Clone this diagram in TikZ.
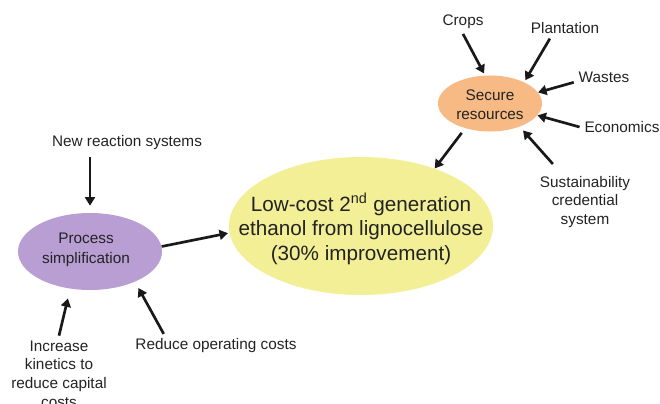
\documentclass[tikz,border=0pt]{standalone}
\usepackage{fontspec}
\setmainfont{Liberation Sans}
\usepackage{xcolor}
\usetikzlibrary{arrows.meta,shapes.geometric}

\definecolor{goalyellow}{RGB}{243,239,150}
\definecolor{procpurple}{RGB}{184,158,211}
\definecolor{resorange}{RGB}{247,186,132}
\definecolor{labelgray}{RGB}{35,35,35}

\begin{document}
\begin{tikzpicture}[x=0.025cm, y=-0.025cm,
    blob/.style={ellipse, inner sep=0pt},
    goaltext/.style={align=center, text=labelgray, font=\fontsize{14.7}{17.4}\selectfont},
    factor/.style={align=center, text=labelgray, font=\fontsize{10.9}{13.3}\selectfont},
    push/.style={-{Triangle[length=6pt,width=7pt]}, line width=1.9pt, black!90}]

    \useasboundingbox (0,0) rectangle (660,403);
    \clip (0,0) rectangle (660,403);

    \node[blob, fill=goalyellow, minimum width=6.6cm, minimum height=3.45cm] (ethanol) at (361,226) {};
    \node[blob, fill=procpurple, minimum width=3.6cm, minimum height=1.925cm] (process) at (90,251.5) {};
    \node[blob, fill=resorange, minimum width=2.6cm, minimum height=1.4cm] (secure) at (490,103.5) {};

    \node[goaltext] (ethanoltext) at (361,229) {Low-cost 2\textsuperscript{nd} generation\\ethanol from lignocellulose\\(30\% improvement)};
    \node[factor, font=\fontsize{10.9}{14.2}\selectfont] (processtext) at (86,250) {Process\\simplification};
    \node[factor] (securetext) at (490,105) {Secure\\resources};

    \node[factor] (reaction) at (127,143) {New reaction systems};
    \node[factor] (kinetics) at (59,374) {Increase\\kinetics to\\reduce capital\\costs};
    \node[factor] (operating) at (216,346) {Reduce operating costs};

    \node[factor] (crops) at (463,22) {Crops};
    \node[factor] (plant) at (565,28) {Plantation};
    \node[factor] (wastes) at (604,77) {Wastes};
    \node[factor] (economics) at (622,127) {Economics};
    \node[factor] (sustain) at (585,202) {Sustainability\\credential\\system};

    \draw[push, shorten <=1.5pt, shorten >=5pt] (reaction.south -| process.north) -- (process.north);
    \draw[push, shorten >=1pt] (process.4) -- (ethanol.183);
    \draw[push, shorten >=7pt] (kinetics.north) -- (process.242);
    \draw[push, shorten >=5pt] ([xshift=0.83cm]operating.north west) -- (process.326);
    \draw[push, shorten <=4pt] (secure.225) -- (ethanol.38);

    \draw[push, shorten >=1.5pt] (crops.south) -- (secure.100);
    \draw[push, shorten >=1.5pt] (plant.215) -- (secure.32);
    \draw[push] (wastes.190) -- (secure.13);
    \draw[push] (economics.west) -- (secure.346);
    \draw[push, shorten >=3.5pt] ([xshift=0.45cm,yshift=0.18cm]sustain.north west) -- (secure.322);
\end{tikzpicture}
\end{document}
